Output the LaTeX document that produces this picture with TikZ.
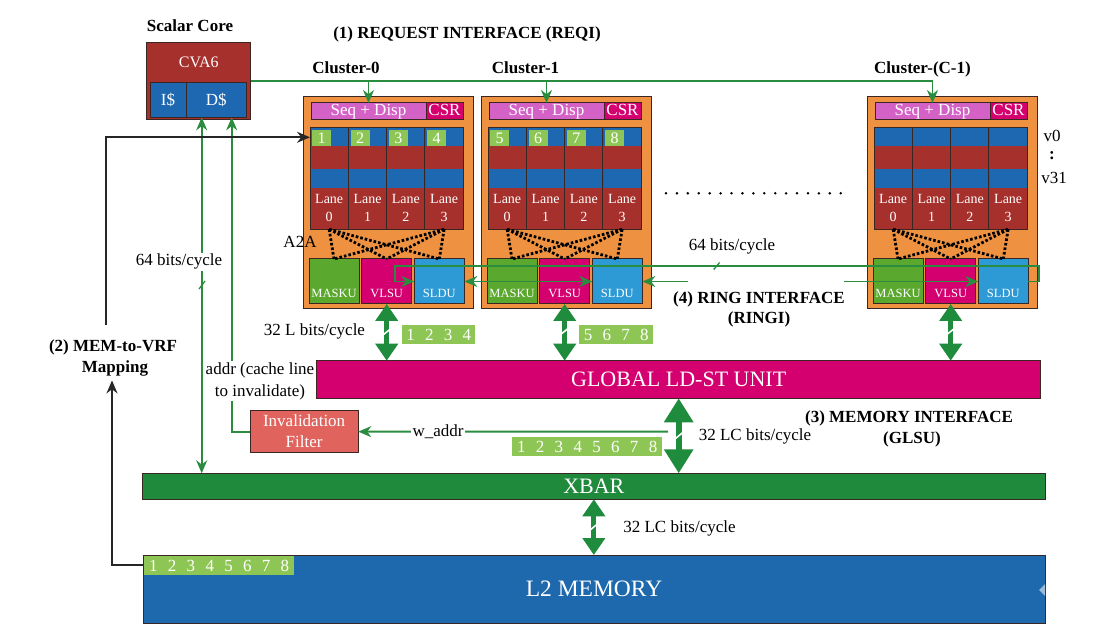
\documentclass[tikz,border=0pt]{standalone}
\usepackage{fontspec}
\setmainfont{Liberation Serif}
\usetikzlibrary{arrows.meta,calc}
\definecolor{corange}{HTML}{EE9242}
\definecolor{cdred}{HTML}{A6302B}
\definecolor{cblue}{HTML}{1D68B0}
\definecolor{cseq}{HTML}{D462C6}
\definecolor{cpink}{HTML}{D5006F}
\definecolor{cmask}{HTML}{5BA82E}
\definecolor{csldu}{HTML}{2D9AD6}
\definecolor{cbadge}{HTML}{8DC654}
\definecolor{cxbar}{HTML}{1F8A3C}
\definecolor{cgline}{HTML}{2A8C3F}
\definecolor{cfat}{HTML}{1E8B3D}
\definecolor{cfilter}{HTML}{E0635D}
\definecolor{cltwo}{HTML}{1E69AD}
\definecolor{cborder}{HTML}{3A2622}
\newcommand{\myfs}[2]{\fontsize{#1}{#2}\selectfont}
\newcommand{\dsp}{\hspace{10.3pt}}
\newcommand{\mkcluster}[3]{%
  \node[clusterbox, anchor=north west] (#1) at (#2,97) {};
  \node[seqbox, anchor=north west] (#1seq) at (#2+8,103) {Seq + Disp};
  \node[csrbox, anchor=north west] (#1csr) at (#2+123,103) {CSR};
  \foreach \i in {0,1,2,3}{%
    \pgfmathsetmacro{\lx}{#2+7+38.33*\i}
    \node[lanebox, anchor=north west] (#1lane\i) at (\lx,127.7) {};
    \fill[cblue] (\lx+0.7,128.4) rectangle (\lx+37.6,146);
    \fill[cblue] (\lx+0.7,169.3) rectangle (\lx+37.6,187.7);
    \node[lanetext, anchor=north] (#1lanet\i) at (\lx+19.2,194.5) {Lane\\\i};
    \ifnum#3>0
      \pgfmathtruncatemacro{\num}{#3+\i}
      \node[lbadge, anchor=north west] (#1badge\i) at (\lx+2,130) {\num};
    \fi
  }
  \node[unitbox, fill=cmask, anchor=north west] (#1mask) at (#2+6,259) {};
  \node[unitbox, fill=cpink, anchor=north west] (#1vlsu) at (#2+58.7,259) {};
  \node[unitbox, fill=csldu, anchor=north west] (#1sldu) at (#2+111.3,259) {};
  \node[unittext, anchor=base] (#1maskt) at (#2+31,298) {MASKU};
  \node[unittext, anchor=base] (#1vlsut) at (#2+83.7,298) {VLSU};
  \node[unittext, anchor=base] (#1sldut) at (#2+136.3,298) {SLDU};
  \foreach \u in {mask,vlsu,sldu}{%
    \draw[atoa] (#1lane0.south) -- (#1\u.north);
    \draw[atoa] (#1lane3.south) -- (#1\u.north);
  }
}
\begin{document}
\begin{tikzpicture}[x=1pt,y=-1pt,
  box/.style={draw=cborder,line width=1pt,inner sep=0pt,outer sep=0pt},
  clusterbox/.style={box,fill=corange,minimum width=170pt,minimum height=212pt},
  seqbox/.style={box,fill=cseq,text=white,font=\myfs{17}{19},minimum width=115pt,minimum height=17pt,text height=11pt,text depth=3pt},
  csrbox/.style={box,fill=cpink,text=white,font=\myfs{17}{19},minimum width=37pt,minimum height=17pt,text height=11pt,text depth=3pt},
  lanebox/.style={box,fill=cdred,minimum width=38.33pt,minimum height=101.6pt},
  lanetext/.style={text=white,font=\myfs{14}{17.5},align=center,inner sep=0pt},
  lbadge/.style={fill=cbadge,text=white,font=\myfs{16}{16},minimum width=19pt,minimum height=15.7pt,inner sep=0pt,text height=11pt,text depth=0pt},
  unitbox/.style={box,minimum width=50pt,minimum height=45pt},
  unittext/.style={text=white,font=\myfs{12.5}{14},inner sep=0pt},
  atoa/.style={draw=black,line width=2.8pt,dash pattern=on 2.6pt off 2pt},
  gline/.style={draw=cgline,line width=1.8pt},
  gtip/.style={-{Stealth[length=13pt,width=11pt]}},
  gtwo/.style={{Stealth[length=13pt,width=11pt]}-{Stealth[length=13pt,width=11pt]}},
  bline/.style={draw=black!85,line width=1.7pt},
  fat/.style={draw=cfat,line width=5pt,{Triangle[width=22pt,length=17pt]}-{Triangle[width=22pt,length=17pt]}},
  fatbig/.style={draw=cfat,line width=6pt,{Triangle[width=28pt,length=24pt]}-{Triangle[width=28pt,length=24pt]}},
  nbadge/.style={fill=cbadge,text=white,font=\myfs{17}{17},inner sep=0pt,minimum height=19pt,text height=12pt,text depth=0pt},
  lbl/.style={font=\myfs{17}{20},inner sep=0pt},
  blbl/.style={font=\bfseries\myfs{17}{20},inner sep=0pt},
  slash/.style={draw=white,line width=1.6pt}
]
\useasboundingbox (0,0) rectangle (1093,628);
\fill[white] (0,0) rectangle (1093,628);

% titles
\node[blbl,anchor=base] (sclbl) at (190,31.5) {Scalar Core};
\node[blbl,anchor=base] (reqi) at (467,38.5) {(1) REQUEST INTERFACE (REQI)};
\node[blbl,anchor=base] (cl0) at (346,74) {Cluster-0};
\node[blbl,anchor=base] (cl1) at (525.5,74) {Cluster-1};
\node[blbl,anchor=base] (clC) at (922.5,73.5) {Cluster-(C-1)};

% scalar core
\node[box,fill=cdred,minimum width=104pt,minimum height=77.7pt,anchor=north west] (cva6) at (146.7,42.3) {};
\node[font=\myfs{16}{18},text=white,anchor=base,inner sep=0pt] (cva6t) at (198.7,68) {CVA6};
\node[box,fill=cblue,minimum width=36pt,minimum height=34.6pt,anchor=north west,text=white,font=\myfs{17}{19}] (icache) at (150,82.7) {I\$};
\node[box,fill=cblue,minimum width=60.7pt,minimum height=34.6pt,anchor=north west,text=white,font=\myfs{17}{19}] (dcache) at (186,82.7) {D\$};
\coordinate (dA) at ($(dcache.south west)+(15.7,0)$);
\coordinate (dB) at ($(dcache.south west)+(45.7,0)$);

% clusters
\mkcluster{c0}{303}{1}
\mkcluster{c1}{481}{5}
\mkcluster{cC}{867}{0}

\node[lbl,anchor=base] (atwoa) at (300,248) {A2A};
\node[lbl,anchor=base] (vzero) at (1052,141.7) {v0};
\node[lbl,anchor=base] (vcol) at (1052,159.5) {\textbf{:}};
\node[lbl,anchor=base] (vtop) at (1054,184) {v31};
\foreach \k in {0,...,16} \fill (666+\k*10.92,193.3) circle (1.4pt);

% request interface
\draw[gline,gtip] (cva6.east) -| (cCseq.north);
\draw[gline,gtip] (c0seq.north |- cva6.east) -- (c0seq.north);
\draw[gline,gtip] (c1seq.north |- cva6.east) -- (c1seq.north);

% ring interface
\coordinate (ringTL) at (395,266);
\coordinate (ringTR) at (1039.3,266);
\coordinate (gapL) at (688,281.5);
\coordinate (gapR) at (844,281.5);
\draw[gline,gtip] (cCsldu.east) -- (ringTR |- cCsldu.east) -- (ringTR) -- (ringTL) -- (ringTL |- c0sldu.west) -- (c0sldu.west);
\draw[gline,gtwo] (c0sldu.east) -- (c1sldu.west);
\draw[gline,gtip] (gapL) -- (c1sldu.east);
\draw[gline,gtip] (gapR) -- (cCsldu.west);
\draw[cgline,line width=1.3pt] (713.7,269.5) -- (719.7,262.5);
\node[lbl,anchor=base] (ringbw) at (732,251) {64 bits/cycle};
\node[blbl,anchor=base] (ringi1) at (759,304) {(4) RING INTERFACE};
\node[blbl,anchor=base] (ringi2) at (759,324) {(RINGI)};

% lane badges
\node[nbadge,minimum width=73pt,anchor=north west] (bz) at (402,325) {1\dsp2\dsp3\dsp4};
\node[nbadge,minimum width=74pt,anchor=north west] (bo) at (579,325) {5\dsp6\dsp7\dsp8};
\node[lbl,anchor=base] (lbw) at (314.5,336) {32 L bits/cycle};

% big units
\node[box,fill=cpink,minimum width=724pt,minimum height=37.6pt,anchor=north west,text=white,font=\myfs{22}{24}] (glsu) at (316.7,360.7) {GLOBAL LD-ST UNIT};
\node[box,fill=cxbar,minimum width=902.3pt,minimum height=26pt,anchor=north west,text=white,font=\myfs{22}{24}] (xbar) at (142.7,473.3) {XBAR};
\node[box,fill=cltwo,minimum width=902pt,minimum height=68pt,anchor=north west,text=white,font=\myfs{23.5}{26}] (ltwo) at (143,555) {L2 MEMORY};
\fill[cblue!45!white] (1045,584) -- (1039,590) -- (1045,596) -- cycle;
\node[nbadge,minimum width=150pt,anchor=north west] (bg) at (512,437) {1\dsp2\dsp3\dsp4\dsp5\dsp6\dsp7\dsp8};
\node[nbadge,minimum width=150pt,anchor=north west] (bl) at (144,556) {1\dsp2\dsp3\dsp4\dsp5\dsp6\dsp7\dsp8};

\node[blbl,anchor=base] (mi1) at (909,422) {(3) MEMORY INTERFACE};
\node[blbl,anchor=base] (mi2) at (912,443) {(GLSU)};

% fat arrows
\draw[fat] (c0vlsu.south) -- (c0vlsu.south |- glsu.north);
\draw[fat] (c1vlsu.south) -- (c1vlsu.south |- glsu.north);
\draw[fat] (cCvlsu.south) -- (cCvlsu.south |- glsu.north);
\draw[fatbig] (glsu.south) -- (glsu.south |- xbar.north);
\draw[fat] (xbar.south) -- (xbar.south |- ltwo.north);
\draw[slash] (381.7,336) -- (391.7,328);
\draw[slash] (558.7,336) -- (568.7,328);
\draw[slash] (945,336) -- (955,328);
\draw[slash] (673.7,440) -- (684.7,431);
\draw[slash] (588.8,531) -- (598.8,523);
\node[lbl,anchor=base] (glbw) at (755,440) {32 LC bits/cycle};
\node[lbl,anchor=base] (xlbw) at (679.5,532) {32 LC bits/cycle};

% invalidation filter
\node[box,fill=cfilter,minimum width=108.3pt,minimum height=41.3pt,anchor=north west,text=white,font=\myfs{17}{21},align=center] (filter) at (250,411) {Invalidation\\Filter};
\coordinate (wstart) at (668,431.6);
\draw[gline,gtip] (wstart) -- (filter.east);
\node[lbl,fill=white,anchor=base,inner sep=1.5pt] (waddr) at (438,436) {w\_addr};
\draw[gline,gtip] (filter.west) -| (dB);
\node[font=\myfs{17}{22},fill=white,align=center,inner sep=1pt,anchor=north] (addrlbl) at (260,361.3) {addr (cache line\\to invalidate)};

% 64 bits/cycle D$ <-> XBAR
\draw[gline,gtwo] (dA) -- (dA |- xbar.north);
\node[lbl,fill=white,anchor=base,inner sep=1pt] (bwsf) at (179,266) {64 bits/cycle};
\draw[cgline,line width=1.3pt] (199,289) -- (205,281);

% MEM-to-VRF mapping
\node[blbl,anchor=base] (mapa) at (113,351.5) {(2) MEM-to-VRF};
\node[blbl,anchor=base] (mapb) at (115,373) {Mapping};
\coordinate (mtop) at (106,325);
\draw[bline,-{Stealth[length=13pt,width=11pt]}] (mtop) |- ($(c0lane0.north west)+(0,9.6)$);
\draw[bline,-{Stealth[length=13pt,width=11pt]}] ($(ltwo.north west)+(0,10)$) -| ($(mapb.south)+(-3,3.5)$);
\end{tikzpicture}
\end{document}
